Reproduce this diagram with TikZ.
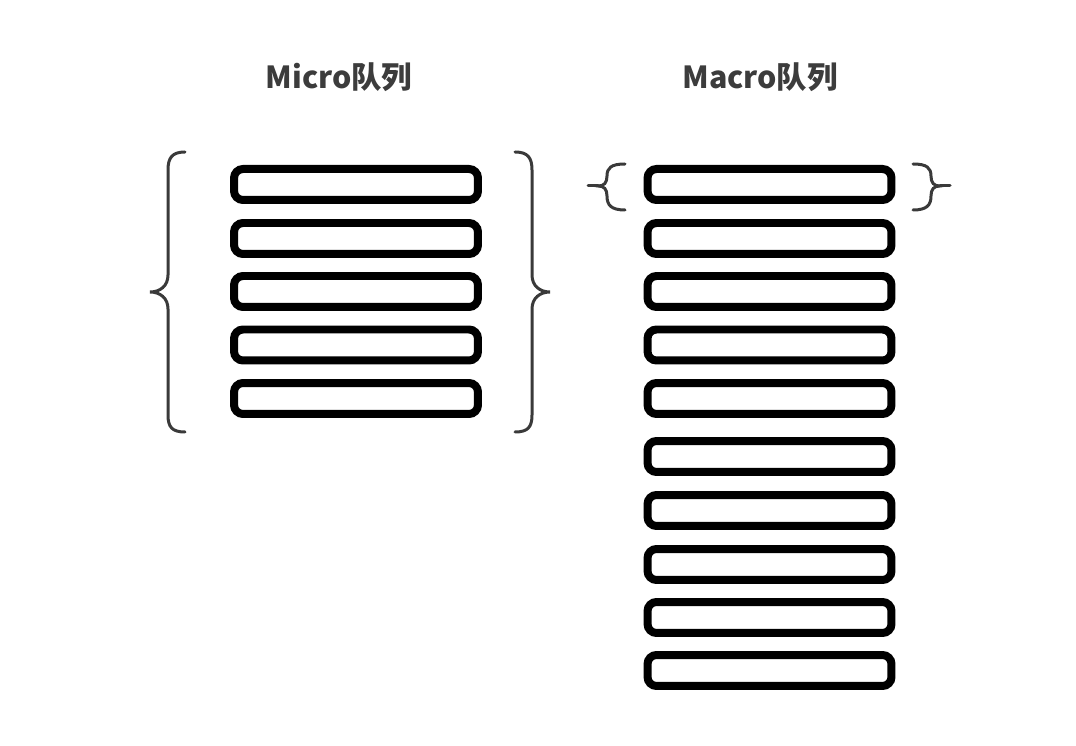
\documentclass[tikz,border=0pt]{standalone}
\usepackage{fontspec}
\newfontfamily\cjk{Noto Sans CJK SC}
\usetikzlibrary{positioning}
\definecolor{titlegray}{HTML}{3C3C3C}
\definecolor{bracegray}{HTML}{3A3A3A}

\begin{document}
\begin{tikzpicture}[
  x=0.02cm, y=-0.02cm,
  slot/.style={draw, rectangle, rounded corners=0.18cm, line width=0.16cm,
    minimum width=4.88cm, minimum height=0.62cm, inner sep=0pt},
  title/.style={text=titlegray, font=\cjk\bfseries\fontsize{17.3}{19}\selectfont},
  curly/.style={draw=bracegray, line width=0.06cm, line cap=round}]

  \useasboundingbox (0,0) rectangle (1076,746);

  \node[title] (micro) at (339,77) {Micro队列};
  \node[title] (macro) at (760,77) {Macro队列};

  \foreach \y [count=\i] in {184.5,238.5,291.5,345,398.5}
    \node[slot] (mi\i) at (356,\y) {};
  \foreach \y [count=\i] in {184.5,238.5,291.5,345,398.5,456.5,510.5,564.5,617.5,670.5}
    \node[slot] (ma\i) at (769.5,\y) {};

  \path[curly] (185,152) .. controls (172,152) and (168,158) .. (168,170) -- (168,275)
    .. controls (168,286) and (160,292) .. (150,292)
    .. controls (160,292) and (168,298) .. (168,309) -- (168,415)
    .. controls (168,427) and (172,432) .. (185,432);
  \path[curly] (515,152) .. controls (528,152) and (532,158) .. (532,170) -- (532,275)
    .. controls (532,286) and (540,292) .. (550,292)
    .. controls (540,292) and (532,298) .. (532,309) -- (532,415)
    .. controls (532,427) and (528,432) .. (515,432);

  \path[curly] (625,164) .. controls (611,164) and (607,168) .. (607,176)
    .. controls (607,183) and (604,186) .. (598,186)
    .. controls (604,186) and (607,189) .. (607,196)
    .. controls (607,205) and (611,210) .. (625,210);
  \path[curly] (588,186) -- (598,186);
  \path[curly] (913,164) .. controls (927,164) and (931,168) .. (931,176)
    .. controls (931,183) and (934,186) .. (940,186)
    .. controls (934,186) and (931,189) .. (931,196)
    .. controls (931,205) and (927,210) .. (913,210);
  \path[curly] (940,186) -- (950,186);
\end{tikzpicture}
\end{document}
